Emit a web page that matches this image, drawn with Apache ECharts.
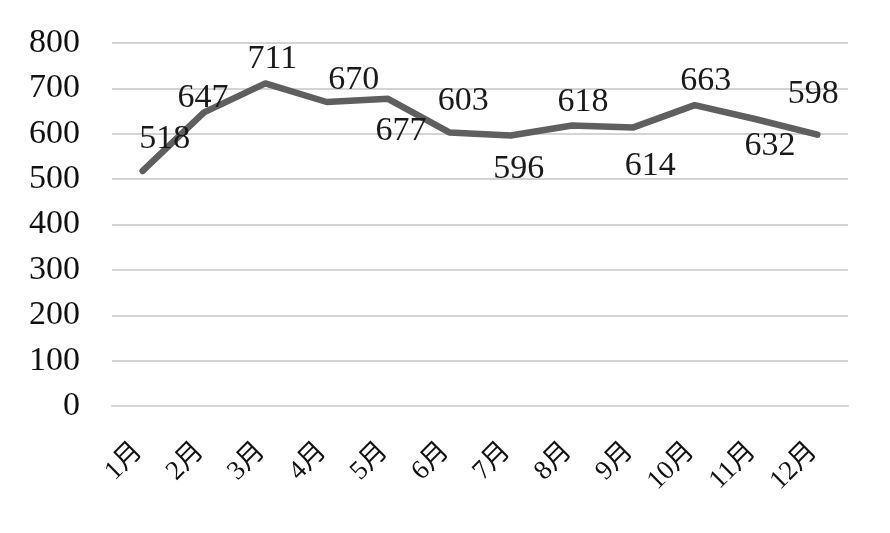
<!DOCTYPE html>
<html>
<head>
<meta charset="utf-8">
<script src="https://cdn.jsdelivr.net/npm/echarts@6/dist/echarts.min.js"></script>
<style>
html,body{margin:0;padding:0;background:#fff;}
#c{width:890px;height:533px;}
</style>
</head>
<body>
<div id="c"></div>
<script>
const categories = ['1月','2月','3月','4月','5月','6月','7月','8月','9月','10月','11月','12月'];
const values = [518, 647, 711, 670, 677, 603, 596, 618, 614, 663, 632, 598];
const yTicks = { min: 0, max: 800, interval: 100 };
// label placement (style only), [dx, dy] from each point
const labelOffsets = [[22,-32],[-1,-14],[7,-24],[27,-22],[13,32],[14,-31],[8,34],[11,-24],[17,39],[11,-24],[14,27],[-4,-41]];

const serif = '"Liberation Serif", "Noto Sans CJK JP", serif';
const chart = echarts.init(document.getElementById('c'), null, {renderer:'canvas'});
chart.setOption({
  animation: false,
  backgroundColor: '#ffffff',
  grid: { left: 112, right: 42, top: 43, bottom: 127, containLabel: false },
  xAxis: {
    type: 'category',
    data: categories,
    boundaryGap: true,
    axisLine: { show: true, lineStyle: { color: '#d4d4d4', width: 2 } },
    axisTick: { show: false },
    axisLabel: {
      rotate: 45, margin: 37, fontSize: 27, color: '#111',
      fontFamily: serif, padding: [0, 6, 12, 0], interval: 0
    }
  },
  yAxis: {
    type: 'value',
    min: yTicks.min, max: yTicks.max, interval: yTicks.interval,
    axisLine: { show: false },
    axisTick: { show: false },
    axisLabel: { margin: 32, fontSize: 34, color: '#111', fontFamily: serif },
    splitLine: { lineStyle: { color: '#d4d4d4', width: 2 } }
  },
  series: [{
    type: 'line',
    data: values.map((v, i) => ({
      value: v,
      label: { offset: labelOffsets[i] }
    })),
    symbol: 'circle',
    symbolSize: 2,
    showSymbol: true,
    itemStyle: { color: '#5f5f5f' },
    lineStyle: { color: '#5f5f5f', width: 6.5, cap: 'round', join: 'round' },
    label: {
      show: true, position: 'inside',
      fontSize: 34, color: '#1a1a1a', fontFamily: serif
    }
  }]
});
</script>
</body>
</html>
